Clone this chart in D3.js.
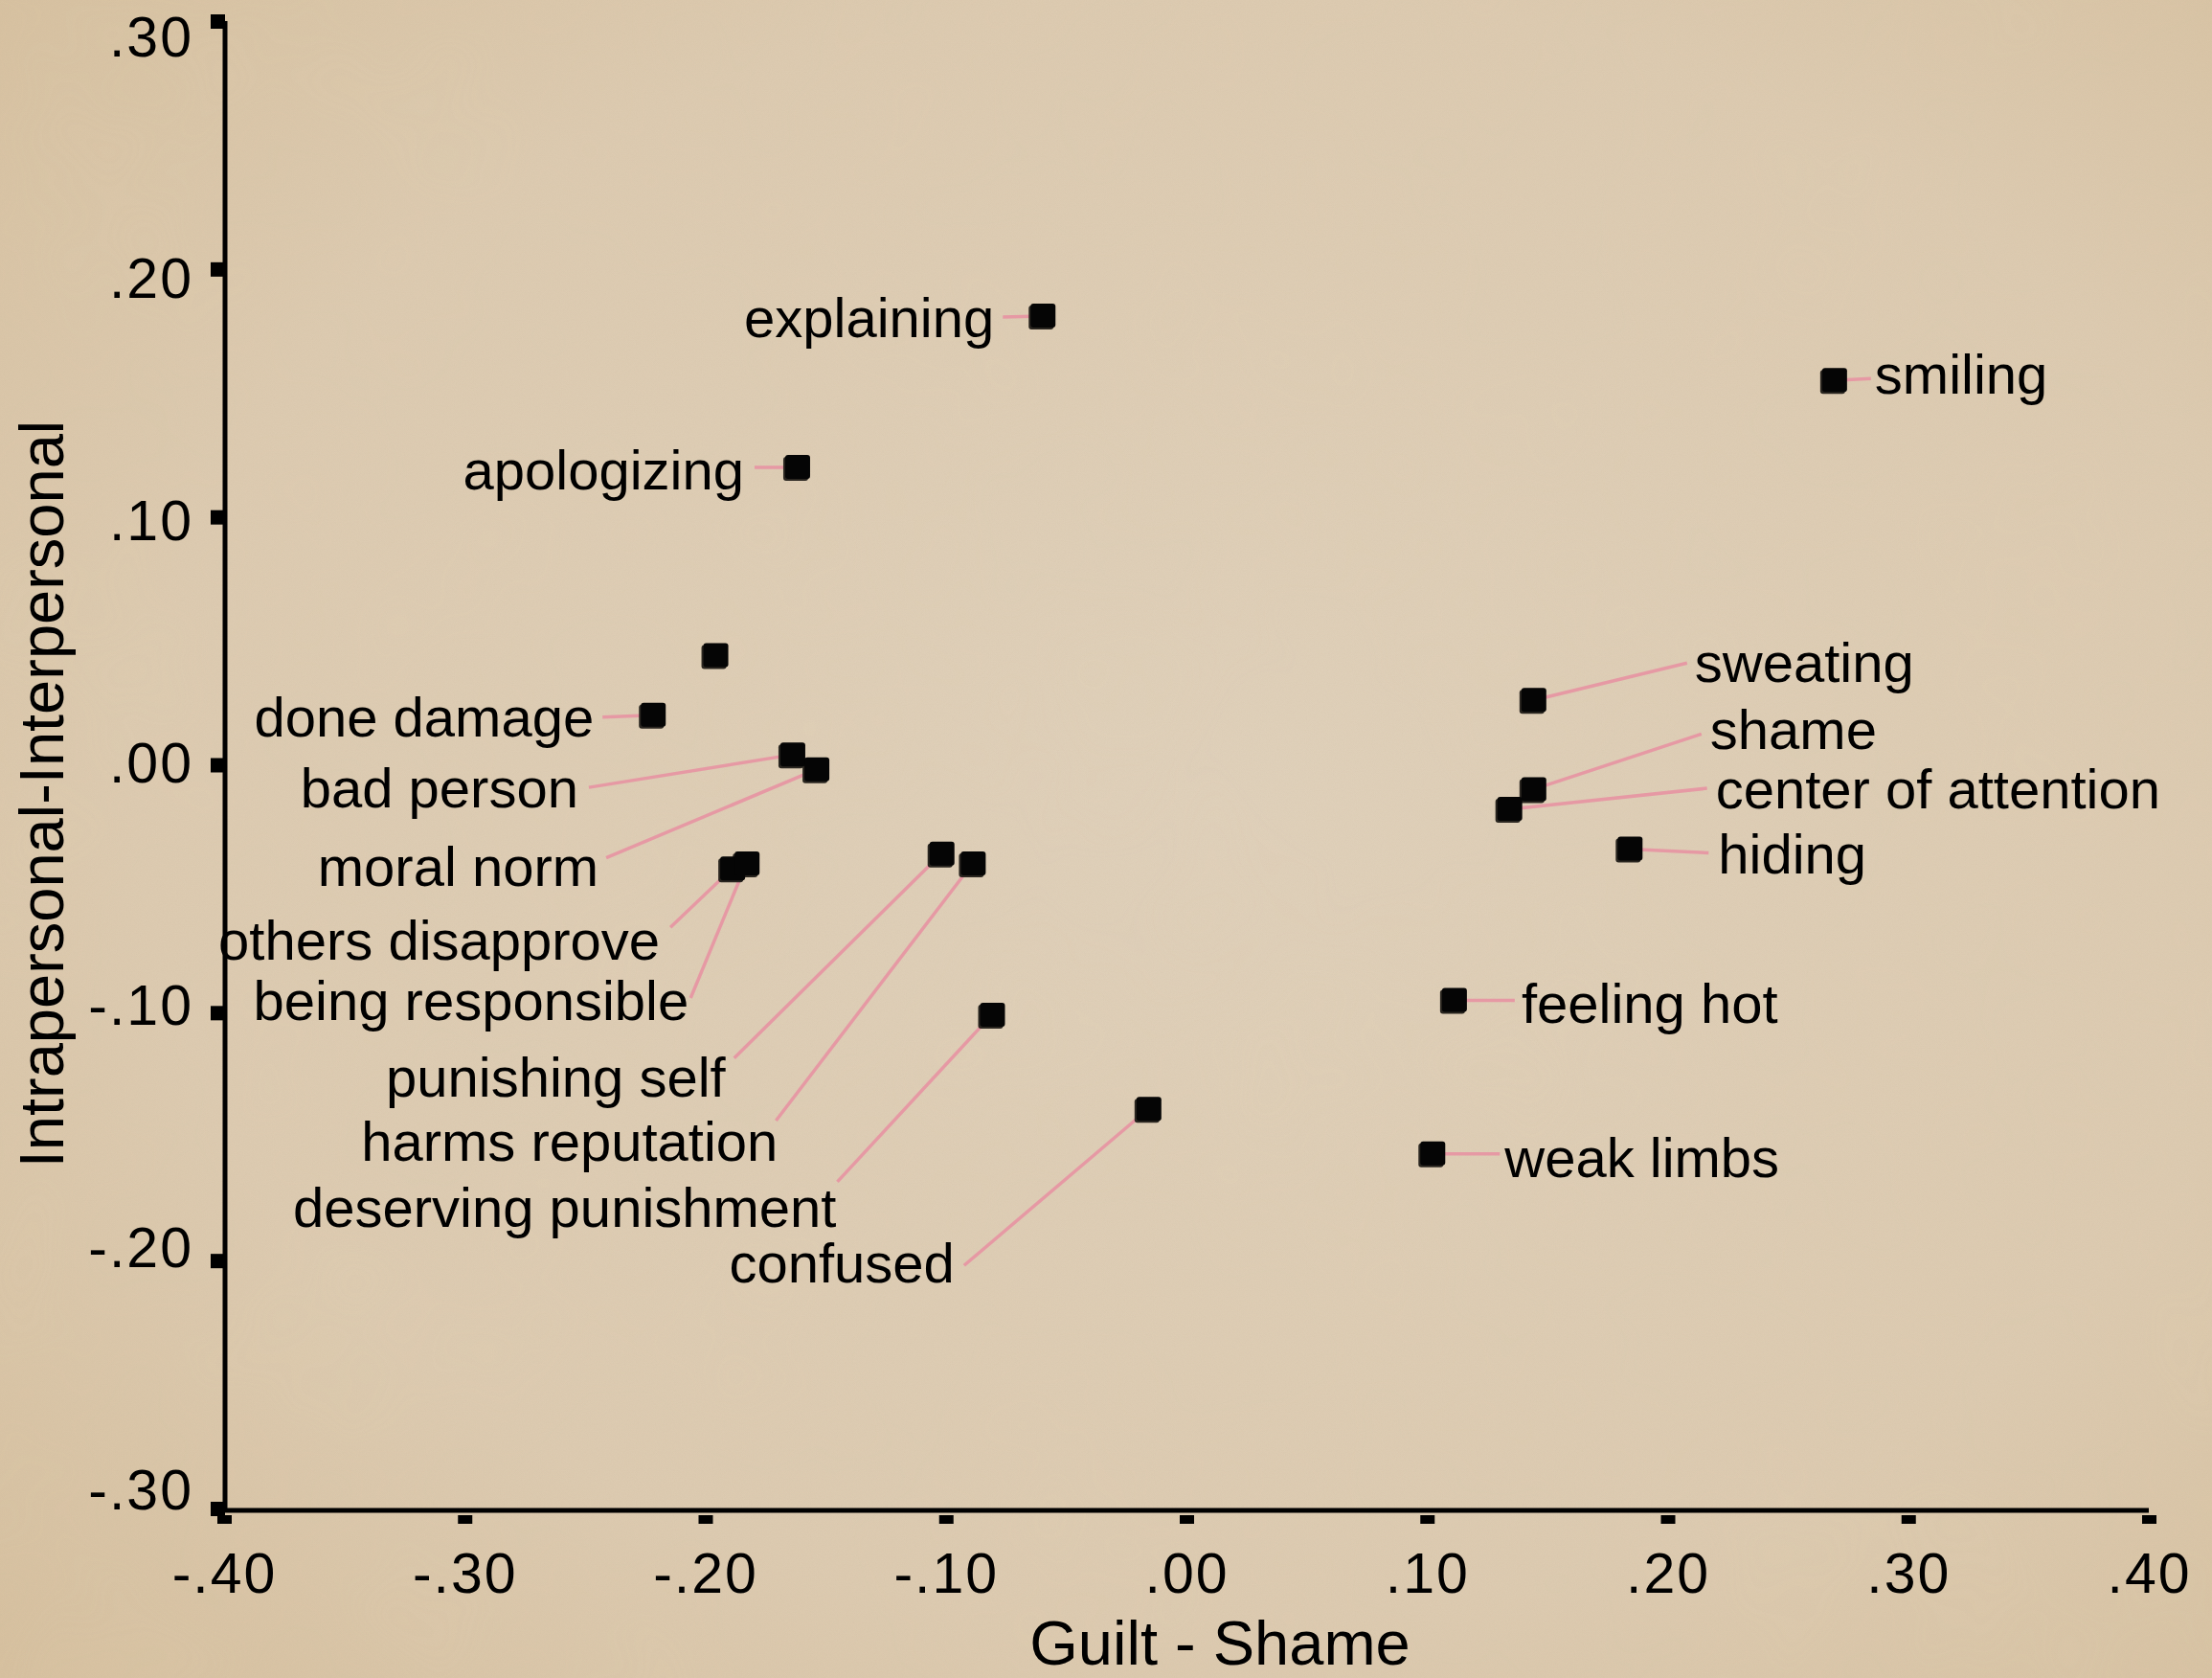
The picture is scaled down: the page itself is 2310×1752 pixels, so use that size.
<!DOCTYPE html>
<html>
<head>
<meta charset="utf-8">
<script src="https://cdn.jsdelivr.net/npm/d3@7"></script>
<style>
  body { margin: 0; background: #d8c4a4; }
  svg text { font-family: "Liberation Sans", Arial, sans-serif; fill: #000; }
  .leader { stroke: #e699a4; stroke-width: 3.5; fill: none; }
</style>
</head>
<body>
<svg id="chart" width="2310" height="1752"></svg>
<script>
// emotion features, coordinates on the two discriminant axes
const features = [
  "explaining", "smiling", "apologizing", "", "done damage", "bad person",
  "moral norm", "others disapprove", "being responsible", "punishing self",
  "harms reputation", "deserving punishment", "confused", "sweating", "shame",
  "center of attention", "hiding", "feeling hot", "weak limbs"
];
const guiltShame = [
  -0.060, 0.269, -0.162, -0.196, -0.222, -0.164,
  -0.154, -0.189, -0.183, -0.102,
  -0.089, -0.081, -0.016, 0.144, 0.144,
  0.134, 0.184, 0.111, 0.102
];
const intraInter = [
  0.181, 0.155, 0.120, 0.044, 0.020, 0.004,
  -0.002, -0.042, -0.040, -0.036,
  -0.040, -0.101, -0.139, 0.026, -0.010,
  -0.018, -0.034, -0.095, -0.157
];
const xTicks = [-0.4, -0.3, -0.2, -0.1, 0, 0.1, 0.2, 0.3, 0.4];
const yTicks = [-0.3, -0.2, -0.1, 0, 0.1, 0.2, 0.3];
const xTitle = "Guilt - Shame";
const yTitle = "Intrapersonal-Interpersonal";

// label placement: leader start (dx, dy) and text anchor (tx, ty), px from the marker
const labelLayout = [
  [-41, 1, -50, 22, "end"], [39, -2, 43, 14, "start"], [-44, 0, -55, 23, "end"], null,
  [-52, 2, -61, 22, "end"], [-212, 34, -223, 55, "end"],
  [-219, 92, -227, 121, "end"], [-64, 61, -75, 95, "end"], [-58, 140, -60, 163, "end"],
  [-216, 213, -225, 253, "end"], [-205, 268, -203, 310, "end"], [-161, 174, -162, 221, "end"],
  [-192, 163, -202, 181, "end"], [161, -39, 169, -19, "start"], [176, -58, 185, -42, "start"],
  [207, -22, 216, -1, "start"], [83, 4, 93, 25, "start"], [64, 0, 71, 24, "start"],
  [71, 0, 76, 24, "start"]
];

const svg = d3.select("#chart");
const width = +svg.attr("width");
const height = +svg.attr("height");

const fmt = (v) => (v < 0 ? "-" : "") + Math.abs(v).toFixed(2).replace(/^0/, "");

const x = d3.scaleLinear().domain([-0.4, 0.4]).range([234, 2244]);
const y = d3.scaleLinear().domain([-0.3, 0.3]).range([1575, 22]);
// the y tick labels sit on a slightly tighter spacing than the ticks themselves
const yLabel = d3.scaleLinear().domain([-0.3, 0.3]).range([1575, 58]);

// parchment background
const defs = svg.append("defs");
const grad = defs.append("radialGradient").attr("id", "paper")
  .attr("cx", "55%").attr("cy", "48%").attr("r", "75%");
grad.append("stop").attr("offset", "0%").attr("stop-color", "#dfd0ba");
grad.append("stop").attr("offset", "65%").attr("stop-color", "#dccab0");
grad.append("stop").attr("offset", "100%").attr("stop-color", "#d6c09f");

const noise = defs.append("filter").attr("id", "grain")
  .attr("x", 0).attr("y", 0).attr("width", "100%").attr("height", "100%");
noise.append("feTurbulence").attr("type", "fractalNoise")
  .attr("baseFrequency", 0.9).attr("numOctaves", 2).attr("seed", 3);
noise.append("feColorMatrix").attr("type", "matrix")
  .attr("values", "0 0 0 0 0.55  0 0 0 0 0.44  0 0 0 0 0.3  0 0 0 0.3 -0.1");

const blotch = defs.append("filter").attr("id", "blotch")
  .attr("x", 0).attr("y", 0).attr("width", "100%").attr("height", "100%");
blotch.append("feTurbulence").attr("type", "fractalNoise")
  .attr("baseFrequency", 0.004).attr("numOctaves", 3).attr("seed", 8);
blotch.append("feColorMatrix").attr("type", "matrix")
  .attr("values", "0 0 0 0 0.78  0 0 0 0 0.66  0 0 0 0 0.46  0 0 0 0.4 -0.15");

svg.append("rect").attr("width", width).attr("height", height).attr("fill", "url(#paper)");
svg.append("rect").attr("width", width).attr("height", height).attr("filter", "url(#blotch)").attr("opacity", 0.4);
svg.append("rect").attr("width", width).attr("height", height).attr("filter", "url(#grain)").attr("opacity", 0.55);

const points = features.map((name, i) => ({
  name: name,
  gx: guiltShame[i],
  iy: intraInter[i],
  lay: labelLayout[i]
}));
const labelled = points.filter((d) => d.name && d.lay);

// leader lines
svg.append("g")
  .selectAll("line")
  .data(labelled)
  .join("line")
  .attr("class", "leader")
  .attr("x1", (d) => x(d.gx) + d.lay[0])
  .attr("y1", (d) => y(d.iy) + d.lay[1])
  .attr("x2", (d) => x(d.gx))
  .attr("y2", (d) => y(d.iy));

// markers
const markers = svg.append("g");
markers.selectAll("rect.shadow")
  .data(points)
  .join("rect")
  .attr("class", "shadow")
  .attr("x", (d) => x(d.gx) - 14)
  .attr("y", (d) => y(d.iy) - 11)
  .attr("width", 26).attr("height", 25).attr("rx", 3)
  .attr("fill", "#2a2620");
markers.selectAll("rect.mark")
  .data(points)
  .join("rect")
  .attr("class", "mark")
  .attr("x", (d) => x(d.gx) - 12)
  .attr("y", (d) => y(d.iy) - 13)
  .attr("width", 26).attr("height", 25).attr("rx", 3)
  .attr("fill", "#050505");

// point labels
svg.append("g")
  .selectAll("text")
  .data(labelled)
  .join("text")
  .attr("x", (d) => x(d.gx) + d.lay[2])
  .attr("y", (d) => y(d.iy) + d.lay[3])
  .attr("text-anchor", (d) => d.lay[4])
  .style("font-size", "58px")
  .text((d) => d.name);

// axes
const xAxis = svg.append("g")
  .attr("transform", "translate(0,1577)")
  .call(d3.axisBottom(x).tickValues(xTicks).tickFormat(fmt).tickSize(14));
xAxis.select(".domain").remove();
xAxis.selectAll(".tick line")
  .attr("y1", 5).attr("y2", 14)
  .attr("stroke", "#000").attr("stroke-width", 15);
xAxis.selectAll(".tick text")
  .attr("y", 86).attr("dy", null)
  .style("font-size", "59px")
  .style("letter-spacing", "2px");
xAxis.append("line")
  .attr("x1", 232).attr("x2", 2244)
  .attr("stroke", "#000").attr("stroke-width", 5);

const yAxis = svg.append("g")
  .attr("transform", "translate(235,0)")
  .call(d3.axisLeft(y).tickValues(yTicks).tickFormat(fmt).tickSize(15));
yAxis.select(".domain").remove();
yAxis.selectAll(".tick line")
  .attr("x1", 0).attr("x2", -15)
  .attr("stroke", "#000").attr("stroke-width", 15);
yAxis.selectAll(".tick text")
  .attr("x", -33).attr("dy", null)
  .attr("y", (d) => yLabel(d) - y(d))
  .style("font-size", "59px")
  .style("letter-spacing", "2px");
yAxis.append("line")
  .attr("y1", 22).attr("y2", 1579)
  .attr("stroke", "#000").attr("stroke-width", 5);

// axis titles
svg.append("text")
  .attr("x", 1274).attr("y", 1738)
  .attr("text-anchor", "middle")
  .style("font-size", "65px")
  .text(xTitle);

svg.append("text")
  .attr("transform", "translate(66,829) rotate(-90)")
  .attr("text-anchor", "middle")
  .style("font-size", "65px")
  .text(yTitle);
</script>
</body>
</html>
